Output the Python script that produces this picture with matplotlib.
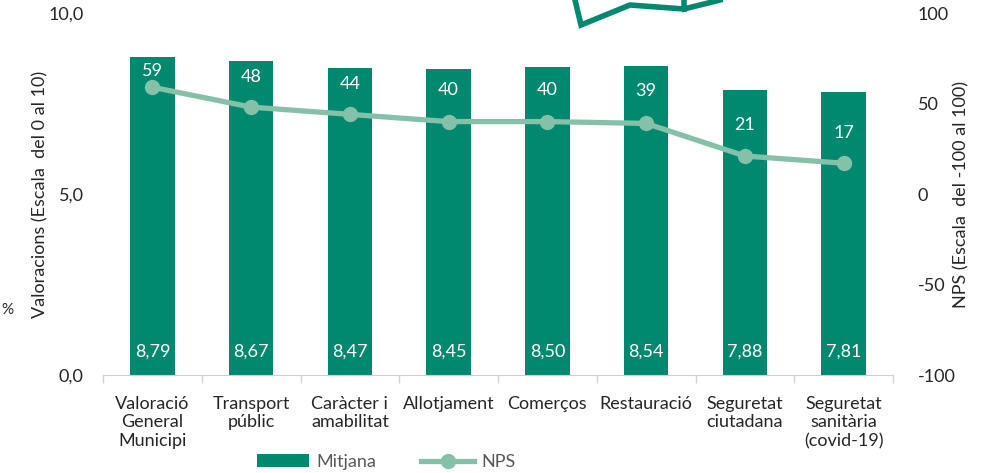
import matplotlib
matplotlib.use("Agg")
import matplotlib.pyplot as plt
from matplotlib.lines import Line2D

plt.rcParams['font.family'] = ['Lato', 'DejaVu Sans']
plt.rcParams['axes.unicode_minus'] = False

# =============================
# Data
# =============================
categories = ["Valoració\nGeneral\nMunicipi", "Transport\npúblic", "Caràcter i\namabilitat",
              "Allotjament", "Comerços", "Restauració", "Seguretat\nciutadana",
              "Seguretat\nsanitària\n(covid-19)"]
mitjana = [8.79, 8.67, 8.47, 8.45, 8.50, 8.54, 7.88, 7.81]
nps = [59, 48, 44, 40, 40, 39, 21, 17]
left_ticks = [0, 5, 10]
right_ticks = [-100, -50, 0, 50, 100]

bar_color = "#00896F"
line_color = "#85C1A9"
text_color = "#262626"
fs = 13

fig = plt.figure(figsize=(9.91, 4.73), dpi=100)
ax = fig.add_axes([103/991, 98/473, 790/991, 362/473])
ax2 = ax.twinx()

x = list(range(len(categories)))
bars = ax.bar(x, mitjana, width=0.45, color=bar_color, label="Mitjana", zorder=2)
for xi, v in zip(x, mitjana):
    ax.text(xi, 0.65, f"{v:.2f}".replace(".", ","), ha="center", va="center",
            color="white", fontsize=fs)

ax2.plot(x, nps, color=line_color, lw=3.8, marker="o", ms=10, label="NPS", zorder=3)
# label offsets above the markers (first one squeezed under the bar top)
offsets = [12, 22, 22, 23, 23, 23, 22, 22]
for xi, v, off in zip(x, nps, offsets):
    ax2.annotate(str(v), (xi, v), xytext=(0, off), textcoords="offset points",
                 ha="center", va="center", color="white", fontsize=fs)

ax.set_xlim(-0.5, len(categories) - 0.5)
ax.set_ylim(0, 10)
ax2.set_ylim(-100, 100)
ax.set_yticks(left_ticks)
ax.set_yticklabels([f"{t:.1f}".replace(".", ",") for t in left_ticks])
ax2.set_yticks(right_ticks)

ax.set_xticks(x)
ax.set_xticklabels(categories)
ax.tick_params(axis="x", length=0, pad=15, labelsize=fs, colors=text_color)
ax.tick_params(axis="y", length=0, pad=14, labelsize=fs, colors=text_color)
ax2.tick_params(axis="y", length=0, pad=18, labelsize=fs, colors=text_color)

for a in (ax, ax2):
    for s in a.spines.values():
        s.set_visible(False)
ax.spines["bottom"].set_visible(True)
ax.spines["bottom"].set_color("#D0D0D0")
# category separator ticks
ax.set_xticks([i - 0.5 for i in range(len(categories) + 1)], minor=True)
ax.tick_params(axis="x", which="minor", length=6, color="#D0D0D0", width=1)

ax.set_ylabel("Valoracions (Escala  del 0 al 10)", fontsize=fs, color=text_color, labelpad=0)
ax2.set_ylabel("NPS (Escala  del -100 al 100)", fontsize=fs, color=text_color, labelpad=-2)

fig.text(1/991, 1 - 310/473, "%", fontsize=11, color=text_color, va="center")

# decorative shape at top
deco = [(575, 0), (581, 25), (630, 5), (684, 9), (684, 0)]
fig.add_artist(Line2D([p[0]/991 for p in deco], [1 - p[1]/473 for p in deco],
                      color=bar_color, lw=4, solid_joinstyle="miter"))
fig.add_artist(Line2D([684/991, 720/991], [1 - 9/473, 1.0], color=bar_color, lw=4))

handles = [bars, Line2D([], [], color=line_color, lw=3.8, marker="o", ms=10)]
fig.legend(handles, ["Mitjana", "NPS"], loc="center", bbox_to_anchor=(386/991, 1 - 462/473),
           ncol=2, frameon=False, fontsize=fs, handlelength=2.9, columnspacing=2.5,
           labelcolor="#595959", handletextpad=0.4)

fig.savefig("out.png", dpi=100)
